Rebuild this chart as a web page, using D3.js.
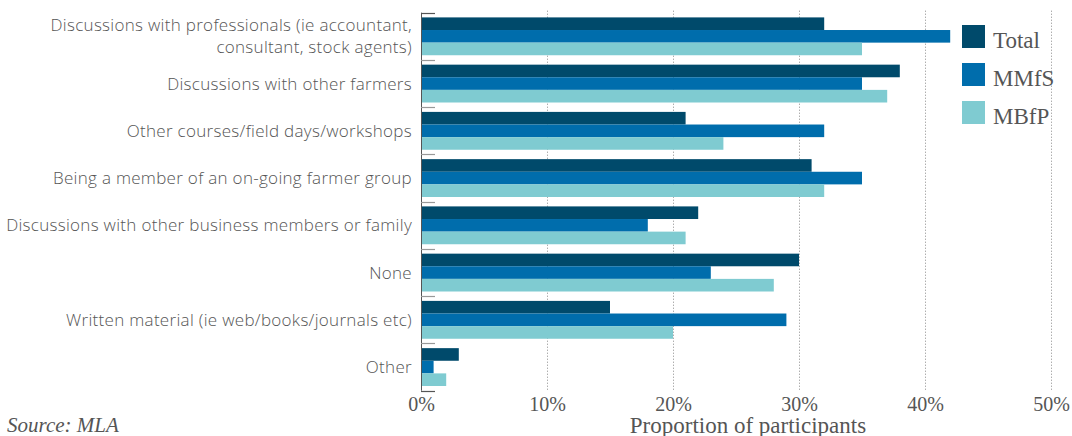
<!DOCTYPE html>
<html>
<head>
<meta charset="utf-8">
<script src="https://cdn.jsdelivr.net/npm/d3@7"></script>
<style>
  html, body { margin: 0; padding: 0; background: #fff; }
  svg { display: block; }
  .cat { font-family: "Open Sans", Lato, sans-serif; font-weight: 300; font-size: 17px; letter-spacing: 0.3px; fill: #555; }
  .serif { font-family: "Liberation Serif", "DejaVu Serif", serif; fill: #555; }
</style>
</head>
<body>
<svg id="chart" width="1072" height="436"></svg>
<script>
// Sources of information used by participants, by program
const categories = [
  ["Discussions with professionals (ie accountant,", "consultant, stock agents)"],
  ["Discussions with other farmers"],
  ["Other courses/field days/workshops"],
  ["Being a member of an on-going farmer group"],
  ["Discussions with other business members or family"],
  ["None"],
  ["Written material (ie web/books/journals etc)"],
  ["Other"]
];
const seriesNames = ["Total", "MMfS", "MBfP"];
const totalValues = [32, 38, 21, 31, 22, 30, 15, 3];
const mmfsValues  = [42, 35, 32, 35, 18, 23, 29, 1];
const mbfpValues  = [35, 37, 24, 32, 21, 28, 20, 2];
const xTicks = [0, 10, 20, 30, 40, 50];
const colors = ["#004a6b", "#006dac", "#7fcbd1"];

const seriesValues = [totalValues, mmfsValues, mbfpValues];
const rows = categories.map((c, i) => ({
  key: i,
  label: c,
  values: seriesNames.map((s, j) => ({ series: s, value: seriesValues[j][i] }))
}));

const svg = d3.select("#chart");
const plotLeft = 421, plotRight = 1051, plotTop = 12.7, plotBottom = 390.7;

const x = d3.scaleLinear().domain([0, 50]).range([plotLeft, plotRight]);
const y = d3.scaleBand().domain(rows.map(r => r.key)).range([plotTop, plotBottom]).padding(0);
const inner = d3.scaleBand().domain(seriesNames)
  .range([4.7, y.bandwidth() - 4.7]).padding(0);

// dotted vertical gridlines
svg.append("g").selectAll("line")
  .data(xTicks.filter(t => t > 0))
  .join("line")
  .attr("x1", d => x(d) + 0.5).attr("x2", d => x(d) + 0.5)
  .attr("y1", plotTop - 2).attr("y2", plotBottom)
  .attr("stroke", "#8a8a8a").attr("stroke-width", 1)
  .attr("stroke-dasharray", "1,2");

// bars
const groups = svg.append("g").selectAll("g")
  .data(rows)
  .join("g")
  .attr("transform", d => `translate(0,${y(d.key)})`);

groups.selectAll("rect")
  .data(d => d.values)
  .join("rect")
  .attr("x", x(0))
  .attr("y", d => inner(d.series))
  .attr("width", d => x(d.value) - x(0))
  .attr("height", inner.bandwidth())
  .attr("fill", (d, i) => colors[i]);

// vertical axis line with separators between categories
const sepYs = rows.map(r => y(r.key)).concat([plotBottom]);
svg.append("line")
  .attr("x1", plotLeft + 0.5).attr("x2", plotLeft + 0.5)
  .attr("y1", plotTop).attr("y2", plotBottom)
  .attr("stroke", "#555");
svg.append("g").selectAll("line")
  .data(sepYs)
  .join("line")
  .attr("x1", plotLeft).attr("x2", plotLeft + 14)
  .attr("y1", d => Math.round(d) + 0.5).attr("y2", d => Math.round(d) + 0.5)
  .attr("stroke", (d, i) => (i === 0 || i === sepYs.length - 1) ? "#555" : "#999")
  .attr("stroke-width", 1.2);

// category labels
const labels = svg.append("g").selectAll("text")
  .data(rows)
  .join("text")
  .attr("class", "cat")
  .attr("text-anchor", "end")
  .attr("x", 412)
  .attr("y", d => y(d.key) + y.bandwidth() / 2);
labels.selectAll("tspan")
  .data(d => d.label.map((t, i, arr) => ({ t, i, n: arr.length })))
  .join("tspan")
  .attr("x", 412)
  .attr("dy", d => d.i === 0 ? ((0.35 - (d.n - 1) * 0.65) + "em") : "1.3em")
  .text(d => d.t);

// x axis tick labels
const xAxis = d3.axisBottom(x).tickValues(xTicks).tickSize(0).tickFormat(d => d + "%");
const ax = svg.append("g").attr("transform", `translate(0,${plotBottom})`).call(xAxis);
ax.select(".domain").remove();
ax.selectAll("text")
  .attr("class", "serif")
  .attr("dy", 0)
  .attr("y", 20)
  .style("font-size", "20px")
  .attr("fill", "#555");

// axis title
svg.append("text")
  .attr("class", "serif")
  .attr("x", 748).attr("y", 433)
  .attr("text-anchor", "middle")
  .style("font-size", "23px")
  .text("Proportion of participants");

// source note
svg.append("text")
  .attr("class", "serif")
  .attr("x", 7).attr("y", 432)
  .style("font-size", "21px")
  .style("font-style", "italic")
  .text("Source: MLA");

// legend
const legend = svg.append("g").selectAll("g")
  .data(seriesNames)
  .join("g")
  .attr("transform", (d, i) => `translate(962,${25 + i * 38})`);
legend.append("rect")
  .attr("width", 23).attr("height", 23)
  .attr("fill", (d, i) => colors[i]);
legend.append("text")
  .attr("class", "serif")
  .attr("x", 31).attr("y", 23)
  .style("font-size", "23px")
  .text(d => d);
</script>
</body>
</html>
